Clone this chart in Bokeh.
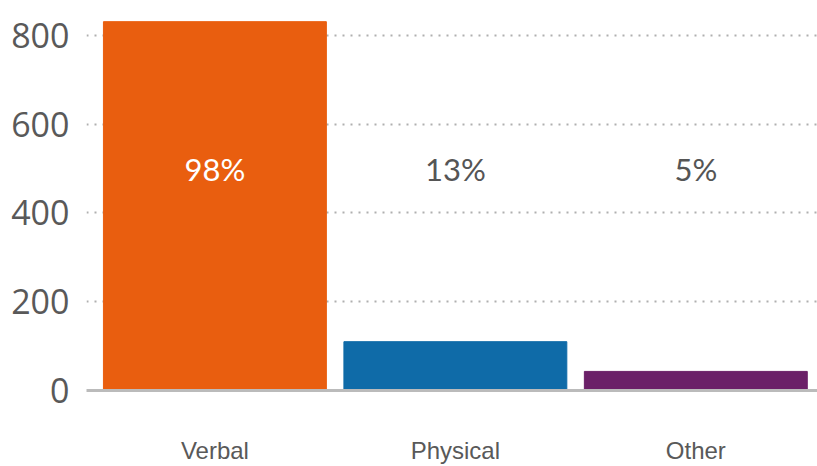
from bokeh.plotting import figure
from bokeh.models import Range1d, FixedTicker, ColumnDataSource
from bokeh.core.properties import value
from bokeh.embed import file_html
from bokeh.resources import INLINE

categories = ["Verbal", "Physical", "Other"]
counts = [831, 110, 43]
percent_labels = ["98%", "13%", "5%"]
bar_colors = ["#E95E0F", "#0F6BA8", "#6B2068"]
label_colors = ["#FFFFFF", "#555555", "#555555"]
y_ticks = [0, 200, 400, 600, 800]
label_y = [500, 500, 500]

xs = list(range(len(categories)))
src = ColumnDataSource(dict(x=xs, top=counts, color=bar_colors,
                            lab=percent_labels, lab_color=label_colors, ly=label_y))

p = figure(width=817, height=466, output_backend="svg", toolbar_location=None,
           x_range=Range1d(-0.534, 2.506), y_range=Range1d(0, 878.7),
           min_border_left=86, min_border_right=0, min_border_top=0, min_border_bottom=75)
p.outline_line_color = None
p.background_fill_color = "white"
p.border_fill_color = "white"

p.vbar(x="x", top="top", bottom=0, width=0.927, color="color", source=src)
p.text(x="x", y="ly", text="lab", text_color="lab_color", source=src,
       text_align="center", text_baseline="middle",
       text_font=value("Lato"), text_font_size="31px")

p.xgrid.grid_line_color = None
p.ygrid.ticker = FixedTicker(ticks=y_ticks)
p.ygrid.grid_line_color = "#AFAFAF"
p.ygrid.grid_line_width = 2
p.ygrid.grid_line_dash = "2 6"

p.yaxis.ticker = FixedTicker(ticks=y_ticks)
p.yaxis.axis_line_color = None
p.yaxis.major_tick_line_color = None
p.yaxis.minor_tick_line_color = None
p.yaxis.major_tick_out = 0
p.yaxis.major_tick_in = 0
p.yaxis.minor_tick_out = 0
p.yaxis.major_label_text_font = "Open Sans"
p.yaxis.major_label_text_font_size = "34px"
p.yaxis.major_label_text_color = "#595959"
p.yaxis.major_label_standoff = 17

p.xaxis.ticker = FixedTicker(ticks=xs)
p.xaxis.major_label_overrides = {i: c for i, c in enumerate(categories)}
p.xaxis.axis_line_color = "#BBBBBB"
p.xaxis.axis_line_width = 3
p.xaxis.major_tick_line_color = None
p.xaxis.minor_tick_line_color = None
p.xaxis.major_tick_out = 0
p.xaxis.major_tick_in = 0
p.xaxis.minor_tick_out = 0
p.xaxis.major_label_text_font = "Liberation Sans"
p.xaxis.major_label_text_font_size = "24px"
p.xaxis.major_label_text_color = "#595959"
p.xaxis.major_label_standoff = 46

open("out.html", "w").write(file_html(p, INLINE))
